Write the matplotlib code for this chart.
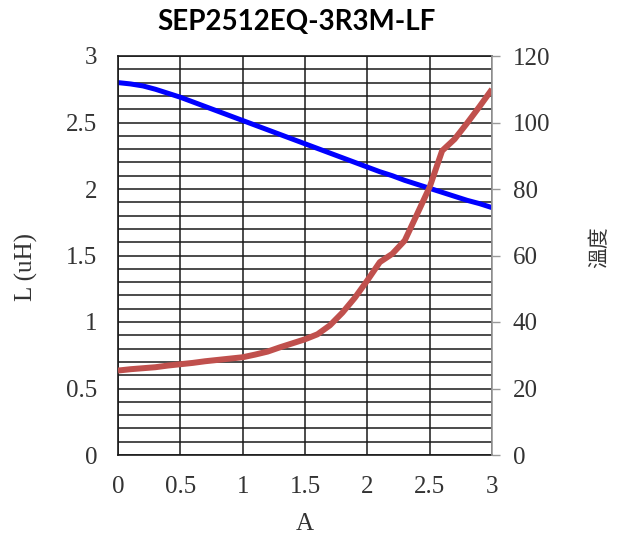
import matplotlib
matplotlib.use("Agg")
import matplotlib.pyplot as plt
import numpy as np

current = [0.0, 0.1, 0.2, 0.3, 0.4, 0.5, 0.6, 0.7, 0.8, 0.9, 1.0, 1.1, 1.2, 1.3, 1.4, 1.5,
           1.6, 1.7, 1.8, 1.9, 2.0, 2.1, 2.2, 2.3, 2.4, 2.5, 2.6, 2.7, 2.8, 2.9, 3.0]
inductance = [2.80, 2.79, 2.775, 2.75, 2.72, 2.69, 2.655, 2.62, 2.585, 2.55, 2.515, 2.48,
              2.445, 2.41, 2.375, 2.34, 2.305, 2.27, 2.235, 2.20, 2.165, 2.13, 2.10, 2.065,
              2.035, 2.005, 1.975, 1.945, 1.915, 1.89, 1.86]
temperature = [25.4, 25.8, 26.1, 26.4, 26.9, 27.3, 27.7, 28.2, 28.6, 29.0, 29.4, 30.2, 31.1,
               32.4, 33.6, 34.8, 36.3, 39.0, 42.8, 47.3, 52.5, 58.0, 60.5, 64.5, 72.5, 80.6,
               91.5, 95.0, 99.8, 104.8, 110.0]

x_ticks = [0, 0.5, 1, 1.5, 2, 2.5, 3]
x_labels = ["0", "0.5", "1", "1.5", "2", "2.5", "3"]
l_ticks = [0, 0.5, 1, 1.5, 2, 2.5, 3]
l_labels = ["0", "0.5", "1", "1.5", "2", "2.5", "3"]
t_ticks = [0, 20, 40, 60, 80, 100, 120]
t_labels = ["0", "20", "40", "60", "80", "100", "120"]

title = "SEP2512EQ-3R3M-LF"

serif = ["Liberation Serif", "DejaVu Serif"]
cjk = ["Noto Sans CJK TC", "DejaVu Sans"]

fig = plt.figure(figsize=(6.24, 5.38), dpi=100)
ax = fig.add_axes([118/624, 1-455/538, 374/624, 399/538])
ax2 = ax.twinx()

ax.set_xlim(0, 3)
ax.set_ylim(0, 3)
ax2.set_ylim(0, 120)

# grid
ax.set_xticks(x_ticks)
ax.set_yticks(l_ticks)
ax.set_yticks(np.arange(0, 3.0001, 0.1), minor=True)
ax.grid(True, which="major", axis="both", color="#1a1a1a", linewidth=1.1)
ax.grid(True, which="minor", axis="y", color="#1a1a1a", linewidth=1.1)
ax.set_axisbelow(True)

ax.plot(current, inductance, color="#0000FF", linewidth=3.6, solid_capstyle="butt")
ax2.plot(current, temperature, color="#C0504D", linewidth=4.3, solid_capstyle="butt",
         solid_joinstyle="round")

tick_fs = 18
ax.set_xticklabels(x_labels, fontfamily=serif, fontsize=tick_fs, color="#333333")
ax.set_yticklabels(l_labels, fontfamily=serif, fontsize=tick_fs, color="#333333")
ax.tick_params(axis="both", which="both", length=0)
ax.tick_params(axis="y", pad=15)
ax.tick_params(axis="x", pad=15)

ax2.set_yticks(t_ticks)
ax2.set_yticklabels(t_labels, fontfamily=serif, fontsize=tick_fs, color="#333333")
ax2.tick_params(axis="y", length=6, width=1, color="#999999", pad=9)

for s in ["left", "bottom", "top"]:
    ax.spines[s].set_color("#1a1a1a")
    ax.spines[s].set_linewidth(1.2)
    ax2.spines[s].set_visible(False)
ax.spines["right"].set_visible(False)
ax2.spines["right"].set_color("#999999")
ax2.spines["right"].set_linewidth(1.2)

ax.set_xlabel("A", fontfamily=serif, fontsize=18, color="#333333")
ax.xaxis.set_label_coords(0.5, -0.145)
ax.set_ylabel("L (uH)", fontfamily=serif, fontsize=18, color="#333333")
ax.yaxis.set_label_coords(-0.213, 0.47)
ax2.set_ylabel("溫度", fontfamily=cjk, fontsize=15, color="#333333", rotation=90)
ax2.yaxis.set_label_coords(1.257, 0.52)

fig.text(297/624, 1-22/538, title, ha="center", va="center",
         fontfamily=["Lato", "DejaVu Sans"], fontweight="bold", fontsize=20, color="black")

fig.savefig("out.png", dpi=100)
